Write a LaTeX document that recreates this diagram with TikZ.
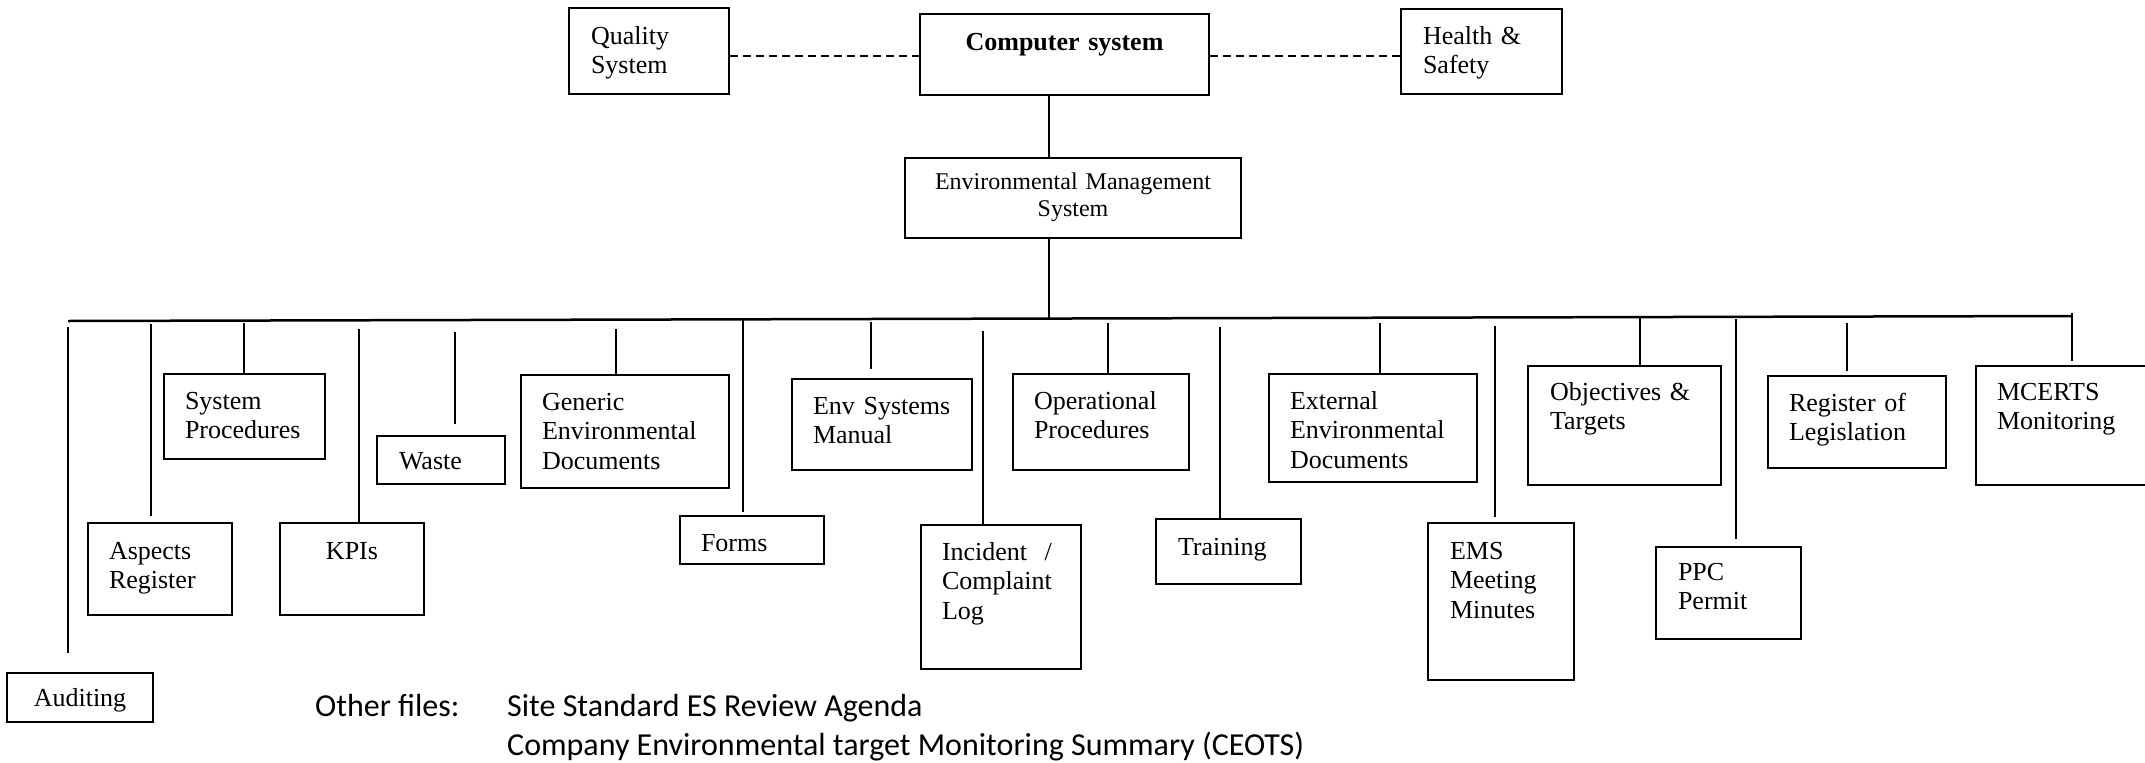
\documentclass[tikz,border=0pt]{standalone}
\usepackage{fontspec}
\setmainfont{Liberation Serif}
\newfontfamily\otherfont{Carlito}
\usetikzlibrary{calc}
\tikzset{
  box/.style={draw, line width=2pt, anchor=north west, inner ysep=0pt, align=left,
    font=\fontsize{26}{29.5}\selectfont},
  cbox/.style={box, align=center},
  conn/.style={line width=1.8pt},
  busline/.style={line width=2.5pt},
  dashline/.style={line width=2pt, dash pattern=on 8pt off 5pt},
  note/.style={anchor=base west, inner sep=0pt, font=\otherfont\fontsize{32}{40}\selectfont},
}
% #1 style, #2 name, #3 x1, #4 y1, #5 x2, #6 y2, #7 text left x, #8 first baseline y, #9 text
\newcommand\ebox[9][box]{%
  \pgfmathsetmacro\bxs{#7-#3}%
  \pgfmathsetmacro\bxw{#5-#3-2*\bxs}%
  \pgfmathsetmacro\bxh{#8-#4}%
  \pgfmathsetmacro\bxd{#6-#8}%
  \node[#1, text width=\bxw pt, inner xsep=\bxs pt, text height=\bxh pt, text depth=\bxd pt]
    (#2) at (#3,#4) {#9};%
}
\begin{document}
\begin{tikzpicture}[x=1pt, y=-1pt]
\path[fill=white, use as bounding box] (0,0) rectangle (2145,763);

% top row
\ebox{qual}{568}{7}{728}{93}{590}{43}{Quality\\System}
\ebox[cbox]{comp}{919}{13}{1208}{94}{929}{49}{\bfseries Computer system}
\ebox{hs}{1400}{8}{1561}{93}{1422}{43}{Health \&\\Safety}
\ebox[cbox, font=\fontsize{24}{27}\selectfont]{ems}{904}{157}{1240}{237}{914}{188}{Environmental Management\hspace*{24pt}\\System\hspace*{30pt}}

% branch boxes
\ebox[cbox]{aud}{6}{672}{152}{721}{14}{705}{Auditing\hspace*{8pt}}
\ebox{asp}{87}{522}{231}{614}{108}{558}{Aspects\\Register}
\ebox{sysp}{163}{373}{324}{458}{184}{408}{System\\Procedures}
\ebox[cbox]{kpi}{279}{522}{423}{614}{289}{558}{KPIs}
\ebox{waste}{376}{435}{504}{483}{398}{468}{Waste}
\ebox{gen}{520}{374}{728}{487}{541}{409}{Generic\\Environmental\\Documents}
\ebox{forms}{679}{515}{823}{563}{700}{550}{Forms}
\ebox{envm}{791}{378}{971}{469}{812}{413}{Env Systems\\Manual}
\ebox{inc}{920}{524}{1080}{668}{941}{559}{Incident\ \ /\\Complaint\\Log}
\ebox{oper}{1012}{373}{1188}{469}{1033}{408}{Operational\\Procedures}
\ebox{train}{1155}{518}{1300}{583}{1177}{554}{Training}
\ebox{ext}{1268}{373}{1476}{481}{1289}{408}{External\\Environmental\\Documents}
\ebox{emsm}{1427}{522}{1573}{679}{1449}{558}{EMS\\Meeting\\Minutes}
\ebox{obj}{1527}{365}{1720}{484}{1549}{399}{Objectives \&\\Targets}
\ebox{ppc}{1655}{546}{1800}{638}{1677}{579}{PPC\\Permit}
\ebox{reg}{1767}{375}{1945}{467}{1788}{410}{Register of\\Legislation}
\ebox{mcerts}{1975}{365}{2155}{484}{1996}{399}{MCERTS\\Monitoring}

% dashed links
\coordinate (dl) at (0,56);
\draw[dashline] (qual.east |- dl) -- (comp.west |- dl);
\draw[dashline] (comp.east |- dl) -- (hs.west |- dl);

% spine
\coordinate (busL) at (68,321);
\coordinate (busR) at (2072,316);
\coordinate (busE) at (1049,318.6);
\draw[conn] (comp.south -| busE) -- (ems.north -| busE);
\draw[conn] (ems.south -| busE) -- (busE);
\draw[busline] (busL) -- (busR);

% branch tops
\coordinate (tAud) at (68,327);
\coordinate (tAsp) at (151,324);
\coordinate (tSys) at (244,323);
\coordinate (tKpi) at (359,329);
\coordinate (tWas) at (455,332);
\coordinate (tGen) at (616,329);
\coordinate (tFor) at (743,320);
\coordinate (tEnv) at (871,322);
\coordinate (tInc) at (983,331);
\coordinate (tOpe) at (1108,323);
\coordinate (tTra) at (1220,327);
\coordinate (tExt) at (1380,323);
\coordinate (tEmm) at (1495,326);
\coordinate (tObj) at (1640,317);
\coordinate (tPpc) at (1736,319);
\coordinate (tReg) at (1847,323);
\coordinate (tMce) at (2072,313);

\draw[conn, shorten >=19pt] (tAud) -- (tAud |- aud.north);
\draw[conn, shorten >=6pt] (tAsp) -- (tAsp |- asp.north);
\draw[conn] (tSys) -- (tSys |- sysp.north);
\draw[conn] (tKpi) -- (tKpi |- kpi.north);
\draw[conn, shorten >=11pt] (tWas) -- (tWas |- waste.north);
\draw[conn] (tGen) -- (tGen |- gen.north);
\draw[conn, shorten >=3pt] (tFor) -- (tFor |- forms.north);
\draw[conn, shorten >=9pt] (tEnv) -- (tEnv |- envm.north);
\draw[conn] (tInc) -- (tInc |- inc.north);
\draw[conn] (tOpe) -- (tOpe |- oper.north);
\draw[conn] (tTra) -- (tTra |- train.north);
\draw[conn] (tExt) -- (tExt |- ext.north);
\draw[conn, shorten >=5pt] (tEmm) -- (tEmm |- emsm.north);
\draw[conn] (tObj) -- (tObj |- obj.north);
\draw[conn, shorten >=7pt] (tPpc) -- (tPpc |- ppc.north);
\draw[conn, shorten >=4pt] (tReg) -- (tReg |- reg.north);
\draw[conn, shorten >=4pt] (tMce) -- (tMce |- mcerts.north);

% other files
\node[note] (of) at (315,716) {Other files:};
\node[note] (of1) at (507,716) {Site Standard ES Review Agenda};
\node[note] (of2) at (507,755) {Company Environmental target Monitoring Summary (CEOTS)};
\end{tikzpicture}
\end{document}
